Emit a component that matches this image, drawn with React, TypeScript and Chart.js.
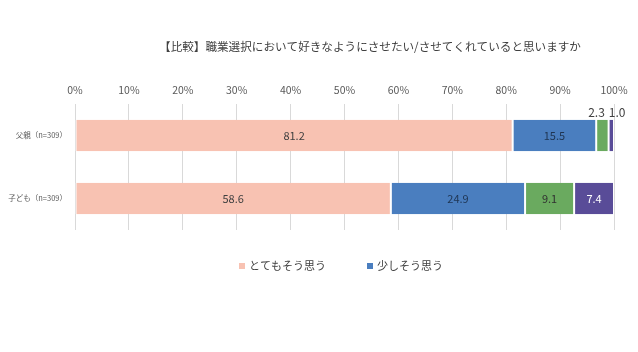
import React, { useEffect, useRef } from "react";
import { Chart, registerables } from "chart.js";

Chart.register(...registerables);

const TITLE = "【比較】職業選択において好きなようにさせたい/させてくれていると思いますか";
const categories = ["父親（n=309）", "子ども（n=309）"];
const seriesNames = ["とてもそう思う", "少しそう思う", "あまりそう思わない", "まったくそう思わない"];
const veryMuch = [81.2, 58.6];
const somewhat = [15.5, 24.9];
const notMuch = [2.3, 9.1];
const notAtAll = [1.0, 7.4];
const seriesColors = ["#F8C2B2", "#4A7EBF", "#6AAA5F", "#594C98"];
const labelColors = ["#404040", "#1F3552", "#303030", "#FFFFFF"];
const legendCount = 2;

const FONT = "'Noto Sans CJK JP', 'Noto Sans', sans-serif";

const labelsPlugin = {
  id: "segLabels",
  afterDatasetsDraw(chart: any) {
    const ctx = chart.ctx;
    const outside: any[][] = [];
    chart.data.datasets.forEach((ds: any, di: number) => {
      const meta = chart.getDatasetMeta(di);
      meta.data.forEach((el: any, i: number) => {
        const v = ds.data[i];
        const left = Math.min(el.x, el.base);
        const right = Math.max(el.x, el.base);
        const w = right - left;
        const text = v.toFixed(1);
        if (w < 22) {
          (outside[i] = outside[i] || []).push({ x: (left + right) / 2, y: el.y - el.height / 2 - 7, text });
        } else {
          ctx.save();
          ctx.font = `11px ${FONT}`;
          ctx.fillStyle = labelColors[di];
          ctx.textAlign = "center";
          ctx.textBaseline = "middle";
          ctx.fillText(text, (left + right) / 2, el.y);
          ctx.restore();
        }
      });
    });
    ctx.save();
    ctx.font = `12px ${FONT}`;
    ctx.fillStyle = "#404040";
    ctx.textAlign = "center";
    ctx.textBaseline = "middle";
    outside.forEach((row) => {
      if (!row) return;
      for (let k = 1; k < row.length; k++) {
        const a = row[k - 1];
        const b = row[k];
        const need = (ctx.measureText(a.text).width + ctx.measureText(b.text).width) / 2 + 4;
        const d = b.x - a.x;
        if (d < need) {
          const s = (need - d) / 2;
          a.x -= s;
          b.x += s;
        }
      }
      row.forEach((o) => ctx.fillText(o.text, o.x, o.y));
    });
    ctx.restore();
  },
};

const decorPlugin = {
  id: "decor",
  afterDraw(chart: any) {
    const ctx = chart.ctx;
    ctx.save();
    ctx.font = `11.6px ${FONT}`;
    ctx.fillStyle = "#404040";
    ctx.textAlign = "center";
    ctx.textBaseline = "middle";
    ctx.fillText(TITLE, 370, 47);

    ctx.font = `11px ${FONT}`;
    ctx.textAlign = "left";
    const positions = [239, 367];
    for (let i = 0; i < legendCount; i++) {
      const x = positions[i];
      ctx.fillStyle = chart.data.datasets[i].backgroundColor;
      ctx.fillRect(x, 263, 6, 6);
      ctx.fillStyle = "#404040";
      ctx.fillText(chart.data.datasets[i].label, x + 10, 266);
    }
    ctx.restore();
  },
};

export default function App() {
  const ref = useRef<HTMLCanvasElement | null>(null);
  useEffect(() => {
    if (!ref.current) return;
    const values = [veryMuch, somewhat, notMuch, notAtAll];
    const chart = new Chart(ref.current, {
      type: "bar",
      data: {
        labels: categories,
        datasets: values.map((d, i) => ({
          label: seriesNames[i],
          data: d,
          backgroundColor: seriesColors[i],
          borderColor: "#FFFFFF",
          borderWidth: { left: 1, right: 1, top: 0, bottom: 0 },
          borderSkipped: false,
          barPercentage: 0.5,
          categoryPercentage: 1.0,
        })),
      },
      options: {
        indexAxis: "y",
        animation: false,
        responsive: false,
        layout: { padding: { top: 0, right: 24, bottom: 122, left: 0 } },
        plugins: {
          legend: { display: false },
          title: { display: false },
          tooltip: { enabled: false },
        },
        scales: {
          x: {
            position: "top",
            stacked: true,
            min: 0,
            max: 100,
            ticks: {
              stepSize: 10,
              padding: 8,
              color: "#595959",
              font: { size: 10.5, family: FONT },
              callback: (v: any) => v + "%",
            },
            grid: { color: "#D9D9D9", drawTicks: false },
            border: { display: false },
            afterFit: (s: any) => {
              s.height = 104;
            },
          },
          y: {
            stacked: true,
            ticks: {
              padding: 8,
              color: "#595959",
              font: { size: 7.5, family: FONT },
            },
            grid: { display: false, drawTicks: false },
            border: { display: false },
            afterFit: (s: any) => {
              s.width = 75;
            },
          },
        },
      },
      plugins: [labelsPlugin, decorPlugin],
    } as any);
    return () => chart.destroy();
  }, []);
  return (
    <div style={{ position: "absolute", left: 0, top: 0, width: 638, height: 352, background: "#fff" }}>
      <canvas ref={ref} width={638} height={352} style={{ width: 638, height: 352 }} />
    </div>
  );
}
